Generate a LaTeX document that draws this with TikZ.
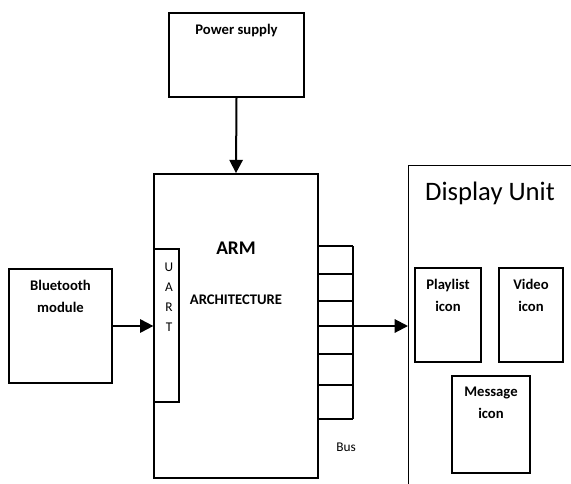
\documentclass[tikz,border=0pt]{standalone}
\usepackage{fontspec}
\setmainfont{Carlito}
\usepackage{tikz}
\usetikzlibrary{arrows.meta,positioning,calc}

\tikzset{
  box/.style={draw, line width=1.3pt, inner sep=0pt},
  thinbox/.style={draw, line width=0.9pt, inner sep=0pt},
  lbl/.style={font=\bfseries\fontsize{11}{16.5}\selectfont, align=center, inner sep=0pt, anchor=north},
  arr/.style={line width=1.5pt, -{Triangle[length=10pt,width=10pt]}}
}

\begin{document}
\begin{tikzpicture}[x=0.75pt,y=-0.75pt]
		\useasboundingbox (0,0) rectangle (571,483);
		\clip (0,0) rectangle (571,483);
		\node[box, minimum width=101.25pt, minimum height=63pt] (power) at (236.5,55) {};
		\node[lbl] (powertxt) at ([yshift=-9pt]power.north) {Power supply};
		\node[box, minimum width=123pt, minimum height=228pt] (arm) at (236,326) {};
		\node[thinbox, minimum width=18.75pt, minimum height=114.75pt] (uart) at (166.5,325.5) {};
		\node[font=\fontsize{10}{15}\selectfont, align=center, inner sep=0pt] (uarttxt) at (169,297) {U\\A\\R\\T};
		\node[font=\bfseries\fontsize{14.5}{16}\selectfont, inner sep=0pt] (armtxt) at (236,248) {ARM};
		\node[font=\bfseries\fontsize{11}{13}\selectfont, inner sep=0pt] (archtxt) at (236,300) {ARCHITECTURE};
		\node[box, minimum width=77.25pt, minimum height=85.5pt] (bt) at (60.5,326) {};
		\node[lbl] (bttxt) at ([yshift=-9pt]bt.north) {Bluetooth\\module};
		\foreach \yy in {246,274,301,326,354,385,419}
			\draw[line width=1.3pt] (arm.east |- 0,\yy) -- (353,\yy);
		\draw[line width=1.3pt] (353,246) -- (353,419);
		\coordinate (busmid) at (318,326);
		\node[font=\fontsize{10}{12}\selectfont, inner sep=0pt] (bustxt) at (346,447) {Bus};
		\node[draw, line width=0.9pt, minimum width=300pt, minimum height=400pt, anchor=north west] (disp) at (408,165) {};
		\node[font=\fontsize{20}{24}\selectfont, inner sep=0pt] (disptxt) at (490,193) {Display Unit};
		\node[box, minimum width=49.5pt, minimum height=70.5pt] (playlist) at (448,315) {};
		\node[lbl] (playlisttxt) at ([yshift=-9pt]playlist.north) {Playlist\\icon};
		\node[box, minimum width=48pt, minimum height=70.5pt] (video) at (531,315) {};
		\node[lbl] (videotxt) at ([yshift=-9pt]video.north) {Video\\icon};
		\node[box, minimum width=58.5pt, minimum height=72.75pt] (message) at (491,424.5) {};
		\node[lbl] (messagetxt) at ([yshift=-9pt]message.north) {Message\\icon};
		\draw[arr] (power.south) -- (arm.north);
		\draw[arr] (bt.east) -- (uart.west |- bt.east);
		\draw[arr] (busmid) -- (disp.west |- busmid);
	\end{tikzpicture}
\end{document}
